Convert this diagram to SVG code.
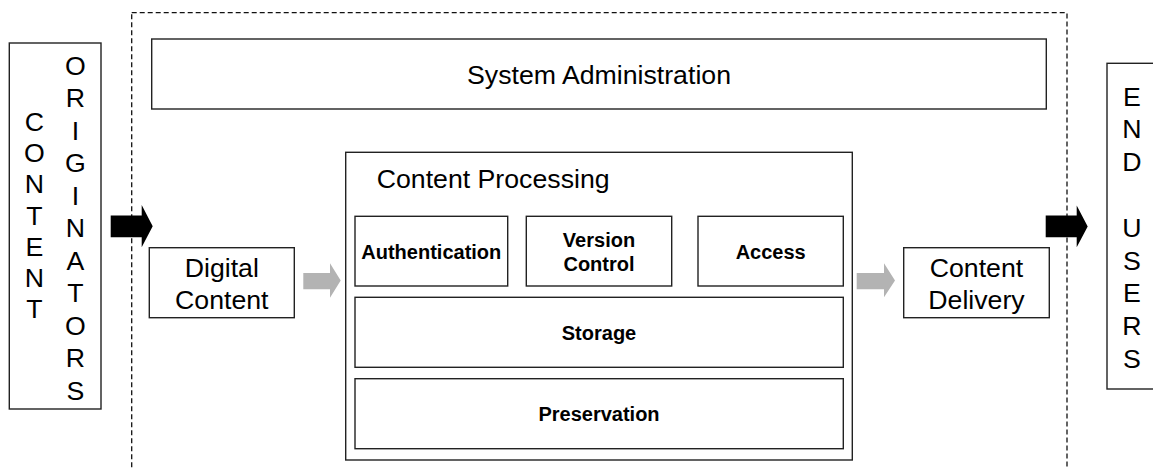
<svg xmlns="http://www.w3.org/2000/svg" width="1153" height="469" viewBox="0 0 1153 469">
<style>
  .box { fill: #fff; stroke: #222; stroke-width: 1.4; }
  .t { font-family: "Liberation Sans", Arial, sans-serif; font-size: 26.7px; fill: #000; }
  .b { font-family: "Liberation Sans", Arial, sans-serif; font-size: 20px; font-weight: bold; fill: #000; text-anchor: middle; }
  .c { text-anchor: middle; }
  .black { fill: #000; }
  .gray { fill: #b3b3b3; }
</style>
<rect width="1153" height="469" fill="#fff"/>

<g id="content-originators">
  <rect class="box" x="9.3" y="43" width="91.7" height="366"/>
  <text class="t c" x="34.5">
    <tspan x="34.5" y="131">C</tspan><tspan x="34.5" y="162.2">O</tspan><tspan x="34.5" y="193.4">N</tspan><tspan x="34.5" y="224.6">T</tspan><tspan x="34.5" y="255.8">E</tspan><tspan x="34.5" y="287">N</tspan><tspan x="34.5" y="318.2">T</tspan>
  </text>
  <text class="t c" x="75.5">
    <tspan x="75.5" y="74.5">O</tspan><tspan x="75.5" y="107">R</tspan><tspan x="75.5" y="139.5">I</tspan><tspan x="75.5" y="172">G</tspan><tspan x="75.5" y="204.5">I</tspan><tspan x="75.5" y="237">N</tspan><tspan x="75.5" y="269.5">A</tspan><tspan x="75.5" y="302">T</tspan><tspan x="75.5" y="334.5">O</tspan><tspan x="75.5" y="367">R</tspan><tspan x="75.5" y="399.5">S</tspan>
  </text>
</g>

<g id="end-users">
  <rect class="box" x="1107" y="63.3" width="70" height="325.7"/>
  <text class="t c">
    <tspan x="1132" y="105.5">E</tspan><tspan x="1132" y="138.3">N</tspan><tspan x="1132" y="171.1">D</tspan><tspan x="1132" y="236.7">U</tspan><tspan x="1132" y="269.5">S</tspan><tspan x="1132" y="302.3">E</tspan><tspan x="1132" y="335.1">R</tspan><tspan x="1132" y="367.9">S</tspan>
  </text>
</g>

<g id="system-administration">
  <rect class="box" x="151.7" y="39" width="894.6" height="70"/>
  <text class="t c" x="599" y="84.3">System Administration</text>
</g>

<g id="digital-content">
  <rect class="box" x="149.3" y="247.7" width="145" height="70"/>
  <text class="t c"><tspan x="221.8" y="276.7">Digital</tspan><tspan x="221.8" y="309">Content</tspan></text>
</g>

<g id="content-delivery">
  <rect class="box" x="903.7" y="247.7" width="145.6" height="70"/>
  <text class="t c"><tspan x="976.5" y="276.7">Content</tspan><tspan x="976.5" y="309">Delivery</tspan></text>
</g>

<g id="content-processing">
  <rect class="box" x="345.7" y="152.3" width="506.6" height="307.7"/>
  <text class="t" x="376.7" y="188.3">Content Processing</text>
</g>

<g id="authentication">
  <rect class="box" x="355" y="216.3" width="152.7" height="69.7"/>
  <text class="b" x="431.3" y="259.3">Authentication</text>
</g>

<g id="version-control">
  <rect class="box" x="526.3" y="216.3" width="145.4" height="69.7"/>
  <text class="b"><tspan x="599" y="247.3">Version</tspan><tspan x="599" y="271">Control</tspan></text>
</g>

<g id="access">
  <rect class="box" x="698" y="216.3" width="145.3" height="69.7"/>
  <text class="b" x="770.7" y="259">Access</text>
</g>

<g id="storage">
  <rect class="box" x="355" y="297.3" width="488.3" height="70"/>
  <text class="b" x="599" y="340">Storage</text>
</g>

<g id="preservation">
  <rect class="box" x="355" y="378.7" width="488.3" height="70"/>
  <text class="b" x="599" y="421">Preservation</text>
</g>

<g id="system-boundary">
  <rect x="131.7" y="12.7" width="935.3" height="480" fill="none" stroke="#111" stroke-width="1.3" stroke-dasharray="5,3"/>
</g>

<g id="connectors">
  <polygon class="black" points="110.7,215.5 141.7,215.5 141.7,205 152.7,226.2 141.7,247.3 141.7,237.3 110.7,237.3"/>
  <polygon class="black" points="1045.7,215.5 1076.7,215.5 1076.7,205.5 1087.7,226.5 1076.7,247.3 1076.7,237.3 1045.7,237.3"/>
  <polygon class="gray" points="303.3,273 330,273 330,263.3 340.7,280.5 330,297.7 330,289.3 303.3,289.3"/>
  <polygon class="gray" points="856.7,273 884,273 884,263.3 895,280.5 884,297.3 884,289.3 856.7,289.3"/>
</g>
</svg>
